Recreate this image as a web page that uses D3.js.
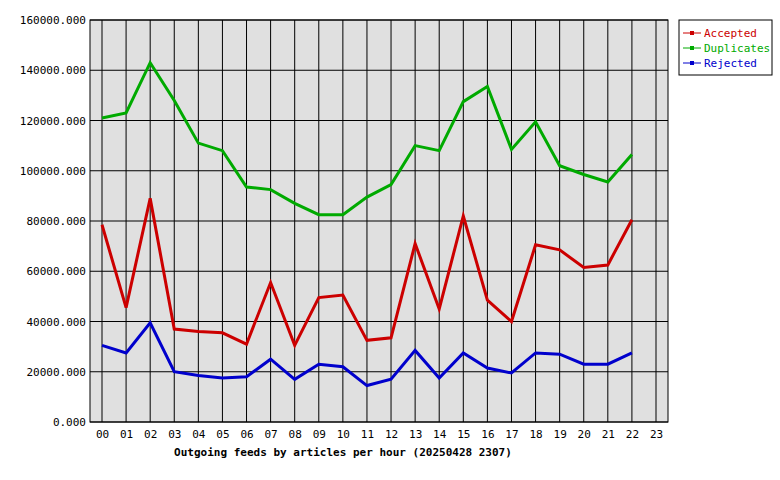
<!DOCTYPE html>
<html><head><meta charset="utf-8">
<script src="https://cdn.jsdelivr.net/npm/d3@7"></script>
<style>body{margin:0;background:#fff}text{font-family:"DejaVu Sans Mono",monospace;font-size:11px}</style>
</head><body><div id="chart"></div>
<script>
const hours = d3.range(24).map(h => String(h).padStart(2, '0'))
const accepted = [78500, 45500, 89000, 37000, 36000, 35500, 31000, 55500, 30500, 49500, 50500, 32500, 33500, 71000, 45000, 82000, 48500, 40000, 70500, 68500, 61500, 62500, 80500]
const duplicates = [121000, 123000, 143000, 128000, 111000, 108000, 93500, 92500, 87000, 82500, 82500, 89500, 94500, 110000, 108000, 127500, 133500, 108500, 119500, 102000, 98500, 95500, 106500]
const rejected = [30500, 27500, 39500, 20000, 18500, 17500, 18000, 25000, 17000, 23000, 22000, 14500, 17000, 28500, 17500, 27500, 21500, 19500, 27500, 27000, 23000, 23000, 27500]
const series = [
  { name: 'Accepted', color: '#cc0000', values: accepted },
  { name: 'Duplicates', color: '#00aa00', values: duplicates },
  { name: 'Rejected', color: '#0000cc', values: rejected }
]

const W = 780, H = 480
const pLeft = 90, pRight = 668, pTop = 20, pBottom = 422
const svg = d3.select('#chart').append('svg').attr('width', W).attr('height', H)

const x = d3.scalePoint().domain(hours).range([102, 656])
const y = d3.scaleLinear().domain([0, 160000]).range([pBottom, pTop])

svg.append('rect').attr('x', pLeft).attr('y', pTop).attr('width', pRight - pLeft).attr('height', pBottom - pTop)
  .attr('fill', '#e0e0e0')

// grid
svg.append('g').selectAll('line').data(y.ticks(8)).join('line')
  .attr('x1', pLeft).attr('x2', pRight).attr('y1', d => y(d)).attr('y2', d => y(d)).attr('stroke', '#000')
svg.append('g').selectAll('line').data(hours).join('line')
  .attr('x1', d => x(d)).attr('x2', d => x(d)).attr('y1', pTop).attr('y2', pBottom).attr('stroke', '#000')
svg.append('rect').attr('x', pLeft).attr('y', pTop).attr('width', pRight - pLeft).attr('height', pBottom - pTop)
  .attr('fill', 'none').attr('stroke', '#000')

svg.append('g').attr('transform', `translate(${pLeft},0)`)
  .call(d3.axisLeft(y).ticks(8).tickSize(0).tickPadding(4).tickFormat(d => d.toFixed(3)))
  .call(g => g.select('.domain').remove())
  .selectAll('text').attr('fill', '#000').style('font-size', '11px')
svg.append('g').attr('transform', `translate(0,${pBottom})`)
  .call(d3.axisBottom(x).tickSize(0).tickPadding(8))
  .call(g => g.select('.domain').remove())
  .selectAll('text').attr('fill', '#000').style('font-size', '11px')

const line = d3.line().x((d, i) => x(hours[i])).y(d => y(d))
series.forEach(s => {
  svg.append('path').attr('d', line(s.values)).attr('fill', 'none')
    .attr('stroke', s.color).attr('stroke-width', 3).attr('stroke-linejoin', 'miter')
})

svg.append('text').attr('x', 343).attr('y', 456).attr('text-anchor', 'middle')
  .style('font-weight', 'bold').text('Outgoing feeds by articles per hour (20250428 2307)')

// legend
const lg = svg.append('g')
lg.append('rect').attr('x', 679).attr('y', 20).attr('width', 93).attr('height', 55)
  .attr('fill', '#fff').attr('stroke', '#000')
series.forEach((s, i) => {
  const yy = 33 + i * 15
  lg.append('line').attr('x1', 683).attr('x2', 701).attr('y1', yy).attr('y2', yy).attr('stroke', s.color)
  lg.append('rect').attr('x', 690).attr('y', yy - 2).attr('width', 4).attr('height', 4).attr('fill', s.color)
  lg.append('text').attr('x', 704).attr('y', yy + 4).attr('fill', s.color).text(s.name)
})
</script></body></html>
